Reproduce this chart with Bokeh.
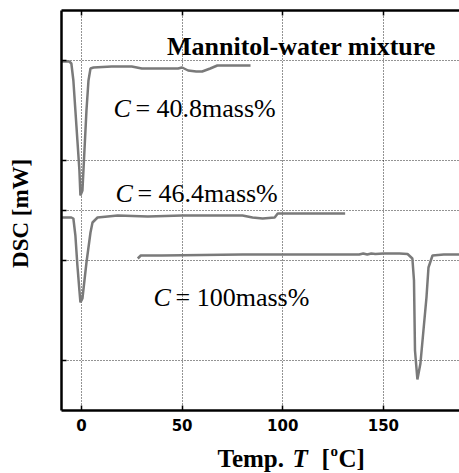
from bokeh.plotting import figure
from bokeh.models import Range1d, LinearAxis, FixedTicker, Label, Grid
from bokeh.layouts import column
from bokeh.core.properties import value
from bokeh.embed import file_html
from bokeh.resources import INLINE

# ---- data ----
temp_408 = [-10, -6, -5, -4, -3, -2, -1, -0.5, 0.5, 1.5, 2.5, 3.5, 4.5, 6, 15, 25, 30, 40, 48, 50, 53, 57, 60, 64, 67.5, 75, 84]
dsc_408 = [349, 349, 347, 330, 300, 270, 240, 215, 220, 260, 300, 330, 342, 343, 344, 344, 342, 342, 342, 343, 340, 339, 339, 342, 345, 345, 345]

temp_464 = [-10, -5, -4, -3, -2, -1, -0.5, 0.5, 1.5, 2.5, 3.5, 4.5, 5.5, 8, 18, 33, 50, 70, 80, 85, 90, 96, 97.5, 110, 131]
dsc_464 = [193, 193, 192, 175, 145, 120, 108, 112, 130, 148, 163, 178, 188, 193, 195, 194, 195, 195, 195, 193, 192, 193, 197, 197, 197]

temp_100 = [28, 29.5, 40, 60, 80, 100, 120, 138, 140, 142, 144, 146, 150, 158, 162, 164.4, 165.2, 165.7, 166.9, 168.4, 169.9, 171.4, 172.4, 174.4, 180, 190]
dsc_100 = [152, 155, 155, 155.5, 156, 156, 156, 156, 157, 156, 157, 156.5, 157, 157, 156.5, 152, 130, 60, 31, 47, 80, 113, 143, 155, 156, 156]

x_ticks = [0, 50, 100, 150]
y_grid = [50, 150, 200, 250, 350]

# x-axis title pieces: text, style, size
xtitle_text = ["Temp.", "T", "[", "o", "C]"]
xtitle_style = ["bold", "bold italic", "bold", "bold", "bold"]
xtitle_size = ["25px", "25px", "25px", "15px", "25px"]

SERIF = "Liberation Serif"
GRAY = "#7a7a7a"
W = 462
XR = (-9.9, 189.3)

p = figure(width=W, height=440, output_backend="svg", toolbar_location=None,
           x_range=Range1d(*XR), y_range=Range1d(0, 400),
           x_axis_type=None, y_axis_type=None,
           min_border_left=61, min_border_right=0, min_border_top=10, min_border_bottom=30)
p.outline_line_color = None
p.background_fill_color = "white"
p.border_fill_color = "white"

# axes
xb = LinearAxis(ticker=FixedTicker(ticks=x_ticks))
xb.major_tick_in = 5
xb.major_tick_out = 0
xb.minor_tick_line_color = None
xb.axis_line_width = 2.5
xb.major_tick_line_width = 1.5
xb.major_label_text_font = "DejaVu Sans"
xb.major_label_text_font_style = "bold"
xb.major_label_text_font_size = "15px"
xb.major_label_text_color = "black"
xb.major_label_standoff = 8
p.add_layout(xb, "below")

xt = LinearAxis(ticker=FixedTicker(ticks=x_ticks))
xt.major_tick_in = 5
xt.major_tick_out = 0
xt.minor_tick_line_color = None
xt.axis_line_width = 2.5
xt.major_tick_line_width = 1.5
xt.major_label_overrides = {t: "" for t in x_ticks}
xt.major_label_standoff = 0
p.add_layout(xt, "above")

yl = LinearAxis(ticker=FixedTicker(ticks=y_grid))
yl.major_tick_in = 5
yl.major_tick_out = 0
yl.minor_tick_line_color = None
yl.axis_line_width = 2.5
yl.major_tick_line_width = 1.5
yl.major_label_overrides = {t: "" for t in y_grid}
yl.major_label_standoff = 0
yl.axis_label = "DSC  [mW]"
yl.axis_label_text_font = SERIF
yl.axis_label_text_font_style = "bold"
yl.axis_label_text_font_size = "23px"
yl.axis_label_text_color = "black"
yl.axis_label_standoff = 29
p.add_layout(yl, "left")

# grid
gx = Grid(dimension=0, ticker=FixedTicker(ticks=x_ticks), grid_line_color="black",
          grid_line_dash="1 2", grid_line_width=1, grid_line_alpha=0.85)
gy = Grid(dimension=1, ticker=FixedTicker(ticks=y_grid), grid_line_color="black",
          grid_line_dash="1 2", grid_line_width=1, grid_line_alpha=0.85)
p.add_layout(gx)
p.add_layout(gy)

# curves
p.line(temp_408, dsc_408, line_color=GRAY, line_width=2.5)
p.line(temp_464, dsc_464, line_color=GRAY, line_width=2.5)
p.line(temp_100, dsc_100, line_color=GRAY, line_width=2.5)

# annotations
p.add_layout(Label(x=42.5, y=364, text="Mannitol-water mixture", text_font=SERIF,
                   text_font_style="bold", text_font_size="26px", text_color="black",
                   text_baseline="alphabetic"))

def c_label(x, y, rest):
    p.add_layout(Label(x=x, y=y, text="C", text_font=SERIF, text_font_style="italic",
                       text_font_size="26px", text_color="black", text_baseline="alphabetic"))
    p.add_layout(Label(x=x, y=y, x_offset=22, text=rest, text_font=SERIF,
                       text_font_size="26px", text_color="black", text_baseline="alphabetic"))

c_label(15.9, 302, "= 40.8mass%")
c_label(16.9, 217, "= 46.4mass%")
c_label(35.8, 113, "= 100mass%")

# strip below the plot carrying the x-axis title (same temperature scale)
p2 = figure(width=W, height=36, output_backend="svg", toolbar_location=None,
            x_range=Range1d(*XR), y_range=Range1d(0, 36),
            x_axis_type=None, y_axis_type=None,
            min_border_left=61, min_border_right=0, min_border_top=0, min_border_bottom=0)
p2.outline_line_color = None
p2.xgrid.visible = False
p2.ygrid.visible = False
p2.background_fill_color = "white"
p2.border_fill_color = "white"

title_x = [67.6, 104.8, 119.2, 123.7, 127.7]
title_y = [18, 18, 18, 26, 18]
for tx, ty, t, st, fs in zip(title_x, title_y, xtitle_text, xtitle_style, xtitle_size):
    p2.text(x=[tx], y=[ty], text=[t], text_font=value(SERIF), text_font_style=st,
            text_font_size=fs, text_color="black", text_baseline="alphabetic",
            text_align="left")

layout = column(p, p2, spacing=0)
open("out.html", "w").write(file_html(layout, INLINE))
